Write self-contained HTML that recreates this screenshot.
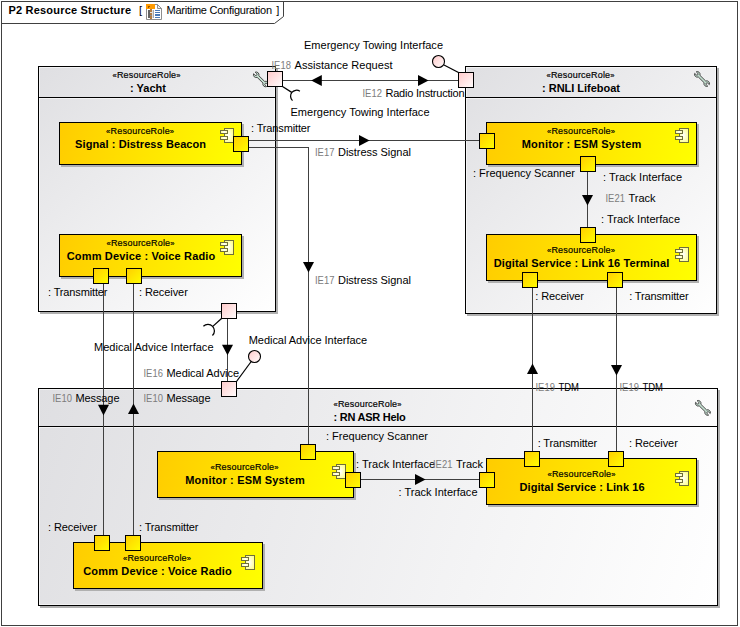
<!DOCTYPE html>
<html lang="en">
<head>
<meta charset="utf-8">
<title>P2 Resource Structure - Maritime Configuration</title>
<style>
html,body{margin:0;padding:0;background:#fff;}
body{width:740px;height:627px;overflow:hidden;}
svg{display:block;}
text{font-family:"Liberation Sans",sans-serif;font-size:11px;fill:#000;}
.b{font-weight:bold;}
.s{font-size:9px;stroke:#000;stroke-width:.18px;}
.q{font-size:7.6px;}
.g{fill:#7c7c7c;}
</style>
</head>
<body>
<svg width="740" height="627" viewBox="0 0 740 627">
<defs>
<linearGradient id="ct" x1="0" y1="0" x2="1" y2="0"><stop offset="0" stop-color="#ffff80"/><stop offset=".55" stop-color="#ffffff"/><stop offset="1" stop-color="#ffffa0"/></linearGradient>
<radialGradient id="ci" cx="0.45" cy="0.5" r="0.6"><stop offset="0" stop-color="#ffffff"/><stop offset="1" stop-color="#ffff8c"/></radialGradient>
<linearGradient id="g1" gradientUnits="userSpaceOnUse" x1="38" y1="66" x2="275" y2="311"><stop offset="0" stop-color="#dfdfe2"/><stop offset="1" stop-color="#ffffff"/></linearGradient>
<linearGradient id="g2" gradientUnits="userSpaceOnUse" x1="465" y1="66" x2="716" y2="313"><stop offset="0" stop-color="#dfdfe2"/><stop offset="1" stop-color="#ffffff"/></linearGradient>
<linearGradient id="g3" gradientUnits="userSpaceOnUse" x1="38" y1="388" x2="717" y2="605"><stop offset="0" stop-color="#dfdfe2"/><stop offset="1" stop-color="#ffffff"/></linearGradient>
<linearGradient id="g4" gradientUnits="userSpaceOnUse" x1="59" y1="122" x2="241" y2="164"><stop offset="0" stop-color="#ffcc00"/><stop offset="1" stop-color="#ffff00"/></linearGradient>
<linearGradient id="g5" gradientUnits="userSpaceOnUse" x1="59" y1="234" x2="241" y2="276"><stop offset="0" stop-color="#ffcc00"/><stop offset="1" stop-color="#ffff00"/></linearGradient>
<linearGradient id="g6" gradientUnits="userSpaceOnUse" x1="486" y1="122" x2="696" y2="164"><stop offset="0" stop-color="#ffcc00"/><stop offset="1" stop-color="#ffff00"/></linearGradient>
<linearGradient id="g7" gradientUnits="userSpaceOnUse" x1="486" y1="234" x2="696" y2="280"><stop offset="0" stop-color="#ffcc00"/><stop offset="1" stop-color="#ffff00"/></linearGradient>
<linearGradient id="g8" gradientUnits="userSpaceOnUse" x1="157" y1="451" x2="353" y2="497"><stop offset="0" stop-color="#ffcc00"/><stop offset="1" stop-color="#ffff00"/></linearGradient>
<linearGradient id="g9" gradientUnits="userSpaceOnUse" x1="486" y1="458" x2="696" y2="504"><stop offset="0" stop-color="#ffcc00"/><stop offset="1" stop-color="#ffff00"/></linearGradient>
<linearGradient id="g10" gradientUnits="userSpaceOnUse" x1="73" y1="542" x2="262" y2="588"><stop offset="0" stop-color="#ffcc00"/><stop offset="1" stop-color="#ffff00"/></linearGradient>
<linearGradient id="g11" gradientUnits="userSpaceOnUse" x1="432" y1="55" x2="445" y2="68"><stop offset="0" stop-color="#ffc8c8"/><stop offset="1" stop-color="#ffffff"/></linearGradient>
<linearGradient id="g12" gradientUnits="userSpaceOnUse" x1="248" y1="350" x2="261" y2="363"><stop offset="0" stop-color="#ffc8c8"/><stop offset="1" stop-color="#ffffff"/></linearGradient>
<linearGradient id="g13" gradientUnits="userSpaceOnUse" x1="233" y1="136" x2="249" y2="152"><stop offset="0" stop-color="#ffcc00"/><stop offset="1" stop-color="#ffff00"/></linearGradient>
<linearGradient id="g14" gradientUnits="userSpaceOnUse" x1="93" y1="268" x2="109" y2="284"><stop offset="0" stop-color="#ffcc00"/><stop offset="1" stop-color="#ffff00"/></linearGradient>
<linearGradient id="g15" gradientUnits="userSpaceOnUse" x1="126" y1="268" x2="142" y2="284"><stop offset="0" stop-color="#ffcc00"/><stop offset="1" stop-color="#ffff00"/></linearGradient>
<linearGradient id="g16" gradientUnits="userSpaceOnUse" x1="479" y1="133" x2="495" y2="149"><stop offset="0" stop-color="#ffcc00"/><stop offset="1" stop-color="#ffff00"/></linearGradient>
<linearGradient id="g17" gradientUnits="userSpaceOnUse" x1="580" y1="156" x2="596" y2="172"><stop offset="0" stop-color="#ffcc00"/><stop offset="1" stop-color="#ffff00"/></linearGradient>
<linearGradient id="g18" gradientUnits="userSpaceOnUse" x1="580" y1="227" x2="596" y2="243"><stop offset="0" stop-color="#ffcc00"/><stop offset="1" stop-color="#ffff00"/></linearGradient>
<linearGradient id="g19" gradientUnits="userSpaceOnUse" x1="522" y1="272" x2="538" y2="288"><stop offset="0" stop-color="#ffcc00"/><stop offset="1" stop-color="#ffff00"/></linearGradient>
<linearGradient id="g20" gradientUnits="userSpaceOnUse" x1="607" y1="272" x2="623" y2="288"><stop offset="0" stop-color="#ffcc00"/><stop offset="1" stop-color="#ffff00"/></linearGradient>
<linearGradient id="g21" gradientUnits="userSpaceOnUse" x1="300" y1="444" x2="316" y2="460"><stop offset="0" stop-color="#ffcc00"/><stop offset="1" stop-color="#ffff00"/></linearGradient>
<linearGradient id="g22" gradientUnits="userSpaceOnUse" x1="345" y1="472" x2="361" y2="488"><stop offset="0" stop-color="#ffcc00"/><stop offset="1" stop-color="#ffff00"/></linearGradient>
<linearGradient id="g23" gradientUnits="userSpaceOnUse" x1="479" y1="472" x2="495" y2="488"><stop offset="0" stop-color="#ffcc00"/><stop offset="1" stop-color="#ffff00"/></linearGradient>
<linearGradient id="g24" gradientUnits="userSpaceOnUse" x1="524" y1="451" x2="540" y2="467"><stop offset="0" stop-color="#ffcc00"/><stop offset="1" stop-color="#ffff00"/></linearGradient>
<linearGradient id="g25" gradientUnits="userSpaceOnUse" x1="608" y1="451" x2="624" y2="467"><stop offset="0" stop-color="#ffcc00"/><stop offset="1" stop-color="#ffff00"/></linearGradient>
<linearGradient id="g26" gradientUnits="userSpaceOnUse" x1="94" y1="535" x2="110" y2="551"><stop offset="0" stop-color="#ffcc00"/><stop offset="1" stop-color="#ffff00"/></linearGradient>
<linearGradient id="g27" gradientUnits="userSpaceOnUse" x1="125" y1="535" x2="141" y2="551"><stop offset="0" stop-color="#ffcc00"/><stop offset="1" stop-color="#ffff00"/></linearGradient>
<linearGradient id="g28" gradientUnits="userSpaceOnUse" x1="267" y1="71" x2="283" y2="87"><stop offset="0" stop-color="#ffc8c8"/><stop offset="1" stop-color="#ffffff"/></linearGradient>
<linearGradient id="g29" gradientUnits="userSpaceOnUse" x1="221" y1="303" x2="237" y2="319"><stop offset="0" stop-color="#ffc8c8"/><stop offset="1" stop-color="#ffffff"/></linearGradient>
<linearGradient id="g30" gradientUnits="userSpaceOnUse" x1="458" y1="72" x2="474" y2="88"><stop offset="0" stop-color="#ffc8c8"/><stop offset="1" stop-color="#ffffff"/></linearGradient>
<linearGradient id="g31" gradientUnits="userSpaceOnUse" x1="221" y1="381" x2="237" y2="397"><stop offset="0" stop-color="#ffc8c8"/><stop offset="1" stop-color="#ffffff"/></linearGradient>
</defs>
<rect x="0" y="0" width="740" height="627" fill="#fff"/>
<rect x="1.5" y="1.5" width="736" height="624" fill="#fff" stroke="#404040"/>
<path d="M1.5 23.5 H274.5 L283.5 16.5 V1.5" fill="none" stroke="#404040"/>
<text x="8.5" y="14" class="b" textLength="122.5" lengthAdjust="spacing">P2 Resource Structure</text>
<text x="139" y="14">[</text>
<text x="166.5" y="14" textLength="105.5" lengthAdjust="spacing">Maritime Configuration</text>
<text x="276.3" y="14">]</text>
<g transform="translate(146,4)"><path d="M0.5 0.5 H11.5 L15.5 4.5 V15.5 H0.5 Z" fill="#fff" stroke="#8e8e8e"/><path d="M11.5 0.5 V4.5 H15.5 Z" fill="#f2f2f2" stroke="#8e8e8e" stroke-linejoin="round"/><rect x="0" y="0" width="9" height="5" fill="#ff9a00"/><rect x="2" y="2" width="2" height="1" fill="#9a5a00"/><rect x="2" y="3" width="1" height="1" fill="#9a5a00"/><rect x="2" y="6" width="2" height="8" fill="#646464"/><rect x="4" y="6" width="3" height="8" fill="#dedede"/><rect x="7" y="6" width="1" height="8" fill="#a8a8a8"/><rect x="4" y="5" width="2" height="10" fill="#b07a40"/><rect x="4" y="8" width="2" height="1" fill="#e4e4e4"/><rect x="4" y="11" width="2" height="1" fill="#8a8a8a"/><rect x="9" y="6" width="5" height="1" fill="#4a7ab8"/><rect x="9" y="8" width="5" height="1" fill="#4a7ab8"/><rect x="9" y="10" width="5" height="2" fill="#4a7ab8"/><rect x="9" y="13" width="5" height="1" fill="#4a7ab8"/></g>
<rect x="40" y="68" width="238" height="246" fill="#b0b0b0"/>
<rect x="38.5" y="66.5" width="237" height="245" fill="url(#g1)" stroke="#000"/>
<rect x="39.5" y="67.5" width="235" height="243" fill="none" stroke="#fff" stroke-opacity=".55"/>
<rect x="38" y="97" width="238" height="1" fill="#000"/>
<rect x="39" y="98" width="236" height="1" fill="#fff" fill-opacity=".55"/>
<rect x="467" y="68" width="252" height="248" fill="#b0b0b0"/>
<rect x="465.5" y="66.5" width="251" height="247" fill="url(#g2)" stroke="#000"/>
<rect x="466.5" y="67.5" width="249" height="245" fill="none" stroke="#fff" stroke-opacity=".55"/>
<rect x="465" y="97" width="252" height="1" fill="#000"/>
<rect x="466" y="98" width="250" height="1" fill="#fff" fill-opacity=".55"/>
<rect x="40" y="390" width="680" height="218" fill="#b0b0b0"/>
<rect x="38.5" y="388.5" width="679" height="217" fill="url(#g3)" stroke="#000"/>
<rect x="39.5" y="389.5" width="677" height="215" fill="none" stroke="#fff" stroke-opacity=".55"/>
<rect x="38" y="426" width="680" height="1" fill="#000"/>
<rect x="39" y="427" width="678" height="1" fill="#fff" fill-opacity=".55"/>
<text x="146.5" y="78" class="s" text-anchor="middle" textLength="68" lengthAdjust="spacing"><tspan class="q">«</tspan>ResourceRole<tspan class="q">»</tspan></text>
<text x="148" y="92" class="b" text-anchor="middle" textLength="36" lengthAdjust="spacing">: Yacht</text>
<text x="580.5" y="78" class="s" text-anchor="middle" textLength="68" lengthAdjust="spacing"><tspan class="q">«</tspan>ResourceRole<tspan class="q">»</tspan></text>
<text x="581" y="92" class="b" text-anchor="middle" textLength="77.8" lengthAdjust="spacing">: RNLI Lifeboat</text>
<text x="333.5" y="407" class="s" textLength="68" lengthAdjust="spacing"><tspan class="q">«</tspan>ResourceRole<tspan class="q">»</tspan></text>
<text x="333.5" y="421" class="b" textLength="72.3" lengthAdjust="spacing">: RN ASR Helo</text>
<path transform="translate(260.9,79.4) rotate(44.5) scale(.93)" d="M-4.37-1.25A3 3 0 0 0-9.85-1.2L-7.6-1.2A1.2 1.2 0 0 1-7.6 1.2L-9.85 1.2A3 3 0 0 0-4.37 1.25L4.37 1.25A3 3 0 0 0 9.85 1.2L7.6 1.2A1.2 1.2 0 0 1 7.6-1.2L9.85-1.2A3 3 0 0 0 4.37-1.25Z" fill="#c4e0d0" stroke="#484848" stroke-width="1" stroke-linejoin="round"/>
<path transform="translate(702,79) rotate(44.5) scale(.93)" d="M-4.37-1.25A3 3 0 0 0-9.85-1.2L-7.6-1.2A1.2 1.2 0 0 1-7.6 1.2L-9.85 1.2A3 3 0 0 0-4.37 1.25L4.37 1.25A3 3 0 0 0 9.85 1.2L7.6 1.2A1.2 1.2 0 0 1 7.6-1.2L9.85-1.2A3 3 0 0 0 4.37-1.25Z" fill="#c4e0d0" stroke="#484848" stroke-width="1" stroke-linejoin="round"/>
<path transform="translate(702.9,407.9) rotate(44.5) scale(.93)" d="M-4.37-1.25A3 3 0 0 0-9.85-1.2L-7.6-1.2A1.2 1.2 0 0 1-7.6 1.2L-9.85 1.2A3 3 0 0 0-4.37 1.25L4.37 1.25A3 3 0 0 0 9.85 1.2L7.6 1.2A1.2 1.2 0 0 1 7.6-1.2L9.85-1.2A3 3 0 0 0 4.37-1.25Z" fill="#c4e0d0" stroke="#484848" stroke-width="1" stroke-linejoin="round"/>
<rect x="61" y="124" width="183" height="43" fill="#b0b0b0"/>
<rect x="59.5" y="122.5" width="182" height="42" fill="url(#g4)" stroke="#000"/>
<text x="140.1" y="134" class="s" text-anchor="middle" textLength="68" lengthAdjust="spacing"><tspan class="q">«</tspan>ResourceRole<tspan class="q">»</tspan></text>
<text x="140.6" y="148" class="b" text-anchor="middle" textLength="131" lengthAdjust="spacing">Signal : Distress Beacon</text>
<g stroke="#6e6e3c" fill="url(#ci)">
<rect x="224.5" y="128.5" width="9" height="14"/>
<rect x="220.5" y="130.5" width="7" height="3" fill="url(#ct)"/>
<rect x="220.5" y="136.5" width="7" height="3" fill="url(#ct)"/>
</g>
<rect x="61" y="236" width="183" height="43" fill="#b0b0b0"/>
<rect x="59.5" y="234.5" width="182" height="42" fill="url(#g5)" stroke="#000"/>
<text x="140.5" y="246" class="s" text-anchor="middle" textLength="68" lengthAdjust="spacing"><tspan class="q">«</tspan>ResourceRole<tspan class="q">»</tspan></text>
<text x="141" y="260" class="b" text-anchor="middle" textLength="148.5" lengthAdjust="spacing">Comm Device : Voice Radio</text>
<g stroke="#6e6e3c" fill="url(#ci)">
<rect x="224.5" y="240.5" width="9" height="14"/>
<rect x="220.5" y="242.5" width="7" height="3" fill="url(#ct)"/>
<rect x="220.5" y="248.5" width="7" height="3" fill="url(#ct)"/>
</g>
<rect x="488" y="124" width="211" height="43" fill="#b0b0b0"/>
<rect x="486.5" y="122.5" width="210" height="42" fill="url(#g6)" stroke="#000"/>
<text x="581.0" y="134" class="s" text-anchor="middle" textLength="68" lengthAdjust="spacing"><tspan class="q">«</tspan>ResourceRole<tspan class="q">»</tspan></text>
<text x="581.5" y="148" class="b" text-anchor="middle" textLength="119.5" lengthAdjust="spacing">Monitor : ESM System</text>
<g stroke="#6e6e3c" fill="url(#ci)">
<rect x="679.5" y="128.5" width="9" height="14"/>
<rect x="675.5" y="130.5" width="7" height="3" fill="url(#ct)"/>
<rect x="675.5" y="136.5" width="7" height="3" fill="url(#ct)"/>
</g>
<rect x="488" y="236" width="211" height="47" fill="#b0b0b0"/>
<rect x="486.5" y="234.5" width="210" height="46" fill="url(#g7)" stroke="#000"/>
<text x="581.0" y="253" class="s" text-anchor="middle" textLength="68" lengthAdjust="spacing"><tspan class="q">«</tspan>ResourceRole<tspan class="q">»</tspan></text>
<text x="581.5" y="267" class="b" text-anchor="middle" textLength="175.5" lengthAdjust="spacing">Digital Service : Link 16 Terminal</text>
<g stroke="#6e6e3c" fill="url(#ci)">
<rect x="679.5" y="247.5" width="9" height="14"/>
<rect x="675.5" y="249.5" width="7" height="3" fill="url(#ct)"/>
<rect x="675.5" y="255.5" width="7" height="3" fill="url(#ct)"/>
</g>
<rect x="159" y="453" width="197" height="47" fill="#b0b0b0"/>
<rect x="157.5" y="451.5" width="196" height="46" fill="url(#g8)" stroke="#000"/>
<text x="244.5" y="470" class="s" text-anchor="middle" textLength="68" lengthAdjust="spacing"><tspan class="q">«</tspan>ResourceRole<tspan class="q">»</tspan></text>
<text x="245" y="484" class="b" text-anchor="middle" textLength="119.5" lengthAdjust="spacing">Monitor : ESM System</text>
<g stroke="#6e6e3c" fill="url(#ci)">
<rect x="336.5" y="464.5" width="9" height="14"/>
<rect x="332.5" y="466.5" width="7" height="3" fill="url(#ct)"/>
<rect x="332.5" y="472.5" width="7" height="3" fill="url(#ct)"/>
</g>
<rect x="488" y="460" width="211" height="47" fill="#b0b0b0"/>
<rect x="486.5" y="458.5" width="210" height="46" fill="url(#g9)" stroke="#000"/>
<text x="581.5" y="477" class="s" text-anchor="middle" textLength="68" lengthAdjust="spacing"><tspan class="q">«</tspan>ResourceRole<tspan class="q">»</tspan></text>
<text x="582" y="491" class="b" text-anchor="middle" textLength="125" lengthAdjust="spacing">Digital Service : Link 16</text>
<g stroke="#6e6e3c" fill="url(#ci)">
<rect x="679.5" y="471.5" width="9" height="14"/>
<rect x="675.5" y="473.5" width="7" height="3" fill="url(#ct)"/>
<rect x="675.5" y="479.5" width="7" height="3" fill="url(#ct)"/>
</g>
<rect x="75" y="544" width="190" height="47" fill="#b0b0b0"/>
<rect x="73.5" y="542.5" width="189" height="46" fill="url(#g10)" stroke="#000"/>
<text x="157.0" y="561" class="s" text-anchor="middle" textLength="68" lengthAdjust="spacing"><tspan class="q">«</tspan>ResourceRole<tspan class="q">»</tspan></text>
<text x="157.5" y="575" class="b" text-anchor="middle" textLength="148.5" lengthAdjust="spacing">Comm Device : Voice Radio</text>
<g stroke="#6e6e3c" fill="url(#ci)">
<rect x="245.5" y="555.5" width="9" height="14"/>
<rect x="241.5" y="557.5" width="7" height="3" fill="url(#ct)"/>
<rect x="241.5" y="563.5" width="7" height="3" fill="url(#ct)"/>
</g>
<rect x="249" y="140" width="231" height="1" fill="#404040"/>
<polygon points="359.0,135.0 359.0,146.0 369.6,140.5" fill="#000"/>
<rect x="249" y="147" width="60" height="1" fill="#404040"/>
<rect x="308" y="147" width="1" height="298" fill="#404040"/>
<polygon points="303.0,261.9 314.0,261.9 308.5,272.5" fill="#000"/>
<rect x="283" y="80" width="176" height="1" fill="#404040"/>
<polygon points="321.8,75.0 321.8,86.0 311.2,80.5" fill="#000"/>
<polygon points="418.0,75.0 418.0,86.0 428.6,80.5" fill="#000"/>
<rect x="103" y="284" width="1" height="252" fill="#404040"/>
<polygon points="98.0,404.79999999999995 109.0,404.79999999999995 103.5,415.4" fill="#000"/>
<rect x="133" y="284" width="1" height="252" fill="#404040"/>
<polygon points="128.0,414.1 139.0,414.1 133.5,403.5" fill="#000"/>
<rect x="227" y="319" width="1" height="63" fill="#404040"/>
<polygon points="222.0,344.7 233.0,344.7 227.5,355.3" fill="#000"/>
<rect x="587" y="172" width="1" height="56" fill="#404040"/>
<polygon points="582.0,194.9 593.0,194.9 587.5,205.5" fill="#000"/>
<rect x="532" y="288" width="1" height="164" fill="#404040"/>
<polygon points="527.0,374.1 538.0,374.1 532.5,363.5" fill="#000"/>
<rect x="616" y="288" width="1" height="164" fill="#404040"/>
<polygon points="611.0,364.9 622.0,364.9 616.5,375.5" fill="#000"/>
<rect x="361" y="479" width="119" height="1" fill="#404040"/>
<polygon points="415.0,474.0 415.0,485.0 425.6,479.5" fill="#000"/>
<g fill="none" stroke="#000" stroke-width="1.25">
<path d="M282.5 86.5 L291.7 92.4"/>
<path d="M299.9 91.2 A6 6 0 0 0 292.5 100.6"/>
<path d="M443.5 64.8 L458.5 72.5"/>
<path d="M221.5 318.5 L212.8 326.4"/>
<path d="M203.4 326.2 A6.5 6.5 0 0 1 212.45 335.55"/>
<path d="M251.2 361.5 L236.5 381.5"/>
</g>
<circle cx="438.5" cy="61.5" r="6" fill="url(#g11)" stroke="#000" stroke-width="1.1"/>
<circle cx="254.5" cy="356.5" r="6" fill="url(#g12)" stroke="#000" stroke-width="1.1"/>
<rect x="233.5" y="136.5" width="15" height="15" fill="url(#g13)" stroke="#000"/>
<rect x="93.5" y="268.5" width="15" height="15" fill="url(#g14)" stroke="#000"/>
<rect x="126.5" y="268.5" width="15" height="15" fill="url(#g15)" stroke="#000"/>
<rect x="479.5" y="133.5" width="15" height="15" fill="url(#g16)" stroke="#000"/>
<rect x="580.5" y="156.5" width="15" height="15" fill="url(#g17)" stroke="#000"/>
<rect x="580.5" y="227.5" width="15" height="15" fill="url(#g18)" stroke="#000"/>
<rect x="522.5" y="272.5" width="15" height="15" fill="url(#g19)" stroke="#000"/>
<rect x="607.5" y="272.5" width="15" height="15" fill="url(#g20)" stroke="#000"/>
<rect x="300.5" y="444.5" width="15" height="15" fill="url(#g21)" stroke="#000"/>
<rect x="345.5" y="472.5" width="15" height="15" fill="url(#g22)" stroke="#000"/>
<rect x="479.5" y="472.5" width="15" height="15" fill="url(#g23)" stroke="#000"/>
<rect x="524.5" y="451.5" width="15" height="15" fill="url(#g24)" stroke="#000"/>
<rect x="608.5" y="451.5" width="15" height="15" fill="url(#g25)" stroke="#000"/>
<rect x="94.5" y="535.5" width="15" height="15" fill="url(#g26)" stroke="#000"/>
<rect x="125.5" y="535.5" width="15" height="15" fill="url(#g27)" stroke="#000"/>
<rect x="267.5" y="71.5" width="15" height="15" fill="url(#g28)" stroke="#000"/>
<rect x="221.5" y="303.5" width="15" height="15" fill="url(#g29)" stroke="#000"/>
<rect x="458.5" y="72.5" width="15" height="15" fill="url(#g30)" stroke="#000"/>
<rect x="221.5" y="381.5" width="15" height="15" fill="url(#g31)" stroke="#000"/>
<text x="304" y="49" textLength="139" lengthAdjust="spacing">Emergency Towing Interface</text>
<text x="271.5" y="69" class="g" textLength="19.4" lengthAdjust="spacingAndGlyphs">IE18</text>
<text x="294.5" y="69" textLength="98" lengthAdjust="spacing">Assistance Request</text>
<text x="362.5" y="97" class="g" textLength="19.4" lengthAdjust="spacingAndGlyphs">IE12</text>
<text x="385.5" y="97" textLength="79" lengthAdjust="spacing">Radio Instruction</text>
<text x="290.5" y="116" textLength="139" lengthAdjust="spacing">Emergency Towing Interface</text>
<text x="251.0" y="132" textLength="59.5" lengthAdjust="spacing">: Transmitter</text>
<text x="315" y="156" class="g" textLength="19.4" lengthAdjust="spacingAndGlyphs">IE17</text>
<text x="338" y="156" textLength="73" lengthAdjust="spacing">Distress Signal</text>
<text x="315" y="284" class="g" textLength="19.4" lengthAdjust="spacingAndGlyphs">IE17</text>
<text x="338" y="284" textLength="73" lengthAdjust="spacing">Distress Signal</text>
<text x="48.0" y="296" textLength="59.5" lengthAdjust="spacing">: Transmitter</text>
<text x="139.0" y="296" textLength="48.8" lengthAdjust="spacing">: Receiver</text>
<text x="94" y="351" textLength="119.5" lengthAdjust="spacing">Medical Advice Interface</text>
<text x="248.7" y="344" textLength="118.4" lengthAdjust="spacing">Medical Advice Interface</text>
<text x="143.5" y="377" class="g" textLength="19.4" lengthAdjust="spacingAndGlyphs">IE16</text>
<text x="166.5" y="377" textLength="72.5" lengthAdjust="spacing">Medical Advice</text>
<text x="52.5" y="402" class="g" textLength="19.4" lengthAdjust="spacingAndGlyphs">IE10</text>
<text x="75.5" y="402" textLength="44" lengthAdjust="spacing">Message</text>
<text x="143.5" y="402" class="g" textLength="19.4" lengthAdjust="spacingAndGlyphs">IE10</text>
<text x="166.5" y="402" textLength="44" lengthAdjust="spacing">Message</text>
<text x="473.0" y="177" textLength="102" lengthAdjust="spacing">: Frequency Scanner</text>
<text x="603.0" y="181" textLength="79" lengthAdjust="spacing">: Track Interface</text>
<text x="605.5" y="202" class="g" textLength="19.4" lengthAdjust="spacingAndGlyphs">IE21</text>
<text x="628.5" y="202" textLength="27" lengthAdjust="spacing">Track</text>
<text x="601.0" y="223" textLength="79" lengthAdjust="spacing">: Track Interface</text>
<text x="535.2" y="300" textLength="48.8" lengthAdjust="spacing">: Receiver</text>
<text x="629.2" y="300" textLength="59.5" lengthAdjust="spacing">: Transmitter</text>
<text x="535.5" y="390.5" class="g" textLength="19.4" lengthAdjust="spacingAndGlyphs">IE19</text>
<text x="558.5" y="390.5" textLength="20.5" lengthAdjust="spacingAndGlyphs">TDM</text>
<text x="619.5" y="390.5" class="g" textLength="19.4" lengthAdjust="spacingAndGlyphs">IE19</text>
<text x="642.5" y="390.5" textLength="20.5" lengthAdjust="spacingAndGlyphs">TDM</text>
<text x="326.0" y="440" textLength="102" lengthAdjust="spacing">: Frequency Scanner</text>
<text x="356.1" y="468" textLength="79" lengthAdjust="spacing">: Track Interface</text>
<text x="433" y="468" class="g" textLength="19.4" lengthAdjust="spacingAndGlyphs">IE21</text>
<text x="456" y="468" textLength="27" lengthAdjust="spacing">Track</text>
<text x="398.5" y="496" textLength="79" lengthAdjust="spacing">: Track Interface</text>
<text x="537.7" y="447" textLength="59.5" lengthAdjust="spacing">: Transmitter</text>
<text x="629.0" y="447" textLength="48.8" lengthAdjust="spacing">: Receiver</text>
<text x="48.0" y="531" textLength="48.8" lengthAdjust="spacing">: Receiver</text>
<text x="139.0" y="531" textLength="59.5" lengthAdjust="spacing">: Transmitter</text>
</svg>
</body>
</html>
